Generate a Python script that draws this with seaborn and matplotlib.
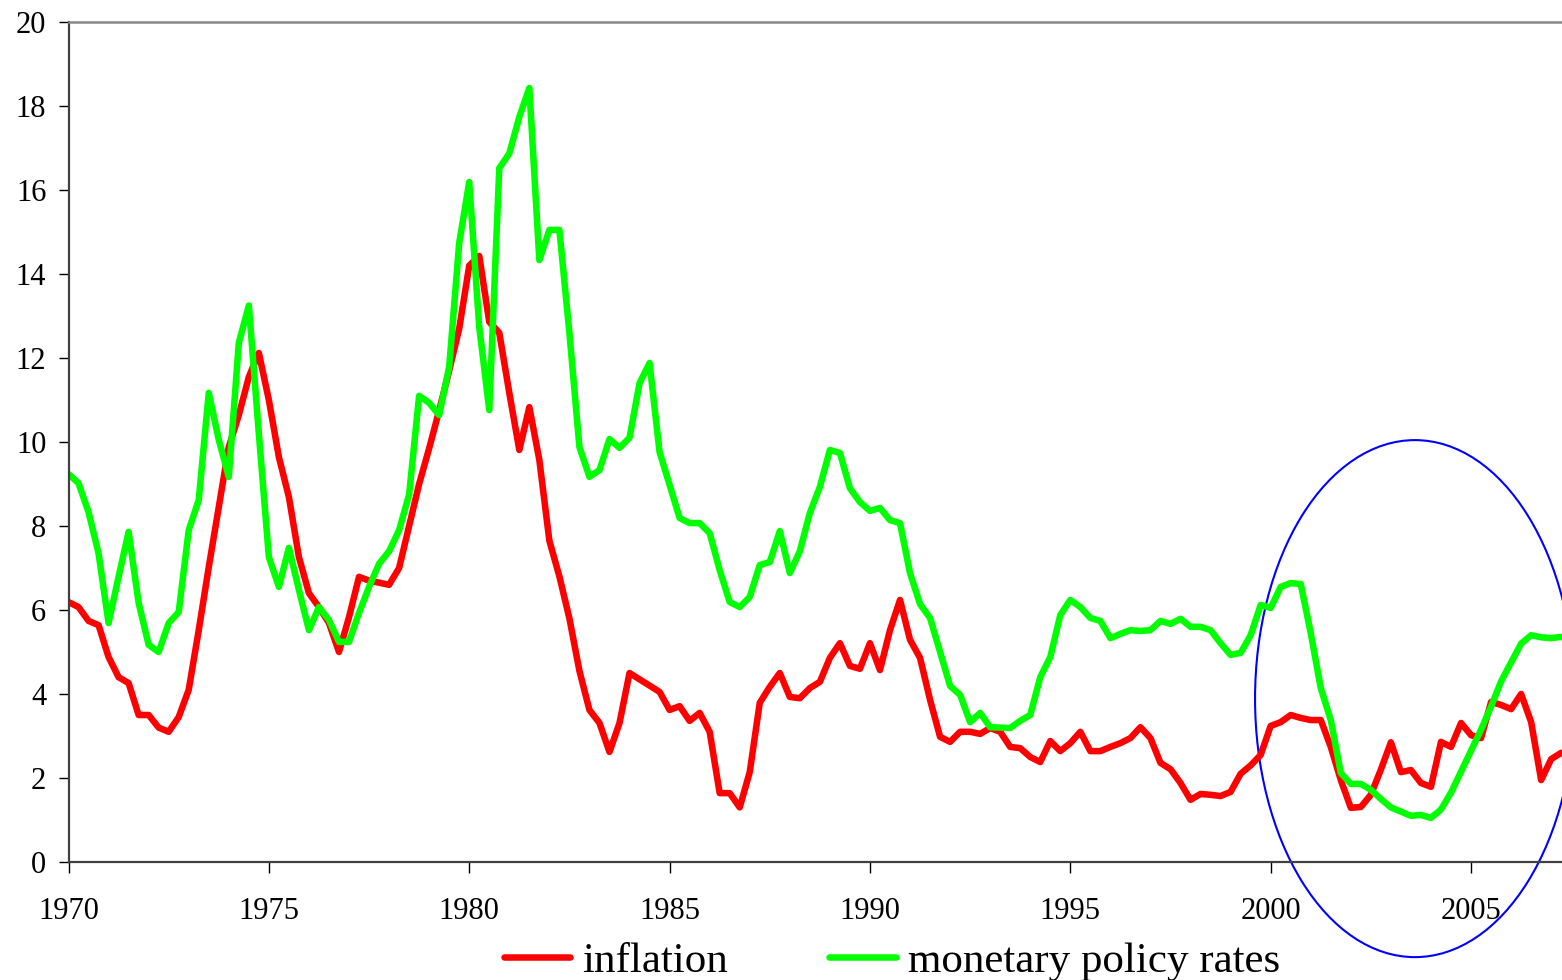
import numpy as np
import pandas as pd
import matplotlib
matplotlib.use("Agg")
import matplotlib.pyplot as plt
from matplotlib.patches import Ellipse
import seaborn as sns

# quarterly data, 1970Q1 .. 2007Q2
start_year = 1970
inflation = [
    6.19, 6.07, 5.74, 5.64, 4.88, 4.40, 4.26, 3.50, 3.50, 3.20,
    3.10, 3.45, 4.10, 5.52, 7.02, 8.45, 9.88, 10.64, 11.55, 12.12,
    11.00, 9.64, 8.69, 7.26, 6.40, 6.07, 5.69, 5.00, 5.83, 6.79,
    6.70, 6.65, 6.60, 7.00, 8.00, 9.00, 9.85, 10.75, 11.70, 12.70,
    14.20, 14.43, 12.86, 12.60, 11.17, 9.81, 10.83, 9.57, 7.65, 6.80,
    5.80, 4.55, 3.62, 3.31, 2.62, 3.31, 4.50, 4.35, 4.20, 4.05,
    3.62, 3.71, 3.36, 3.55, 3.10, 1.64, 1.64, 1.30, 2.14, 3.79,
    4.17, 4.50, 3.93, 3.90, 4.14, 4.29, 4.86, 5.21, 4.67, 4.60,
    5.21, 4.57, 5.52, 6.24, 5.29, 4.86, 3.86, 2.98, 2.86, 3.10,
    3.10, 3.05, 3.19, 3.10, 2.74, 2.71, 2.50, 2.38, 2.88, 2.64,
    2.83, 3.10, 2.64, 2.64, 2.74, 2.83, 2.95, 3.21, 2.95, 2.36,
    2.21, 1.88, 1.48, 1.62, 1.60, 1.57, 1.67, 2.10, 2.30, 2.55,
    3.24, 3.33, 3.50, 3.43, 3.38, 3.38, 2.74, 1.95, 1.29, 1.31,
    1.60, 2.20, 2.85, 2.14, 2.19, 1.88, 1.79, 2.86, 2.74, 3.31,
    3.02, 2.95, 3.81, 3.74, 3.64, 4.00, 3.33, 1.95, 2.45, 2.60,
]
policy_rate = [
    9.24, 9.02, 8.33, 7.35, 5.69, 6.79, 7.86, 6.17, 5.17, 5.00,
    5.69, 5.95, 7.90, 8.62, 11.17, 10.05, 9.17, 12.36, 13.25, 10.20,
    7.26, 6.55, 7.48, 6.48, 5.52, 6.07, 5.76, 5.24, 5.24, 5.93,
    6.55, 7.10, 7.40, 7.90, 8.75, 11.10, 10.93, 10.64, 11.79, 14.74,
    16.19, 12.74, 10.76, 16.52, 16.87, 17.74, 18.43, 14.33, 15.05, 15.05,
    12.60, 9.88, 9.17, 9.33, 10.07, 9.86, 10.10, 11.40, 11.88, 9.76,
    8.98, 8.19, 8.07, 8.07, 7.83, 6.95, 6.19, 6.07, 6.31, 7.07,
    7.14, 7.88, 6.88, 7.40, 8.31, 8.93, 9.81, 9.74, 8.90, 8.57,
    8.36, 8.43, 8.14, 8.07, 6.88, 6.14, 5.81, 5.00, 4.19, 3.98,
    3.33, 3.55, 3.21, 3.20, 3.19, 3.36, 3.50, 4.40, 4.88, 5.88,
    6.24, 6.07, 5.81, 5.74, 5.33, 5.43, 5.52, 5.50, 5.52, 5.74,
    5.67, 5.79, 5.60, 5.60, 5.52, 5.21, 4.93, 4.98, 5.40, 6.12,
    6.05, 6.55, 6.64, 6.62, 5.45, 4.14, 3.38, 2.12, 1.86, 1.86,
    1.72, 1.50, 1.30, 1.20, 1.10, 1.12, 1.05, 1.25, 1.65, 2.15,
    2.65, 3.15, 3.70, 4.30, 4.75, 5.20, 5.40, 5.35, 5.33, 5.36,
]
series_names = ["inflation", "monetary policy rates"]
year_ticks = [1970, 1975, 1980, 1985, 1990, 1995, 2000, 2005]
y_ticks = [0, 2, 4, 6, 8, 10, 12, 14, 16, 18, 20]

dates = start_year + np.arange(len(inflation)) * 0.25
df = pd.DataFrame({"date": dates, series_names[0]: inflation, series_names[1]: policy_rate})
long = df.melt(id_vars="date", var_name="series", value_name="rate")

sns.set_style("white")
plt.rcParams["font.family"] = ["Liberation Serif", "DejaVu Serif"]
plt.rcParams["text.color"] = "black"
plt.rcParams["xtick.labelcolor"] = "black"
plt.rcParams["ytick.labelcolor"] = "black"

fig = plt.figure(figsize=(15.62, 9.8), dpi=100)
ax = fig.add_axes([68.5 / 1562, 118 / 980, 1 - 68.5 / 1562, 840 / 980])

sns.lineplot(data=long, x="date", y="rate", hue="series", hue_order=series_names,
             palette={"inflation": "#ff0000", "monetary policy rates": "#00ff00"},
             linewidth=4.7, ax=ax)

ax.set_xlim(1970, 2007.27)
ax.set_ylim(0, 20)
ax.set_xticks(year_ticks)
ax.set_yticks(y_ticks)
ax.set_xlabel("")
ax.set_ylabel("")
ax.tick_params(axis="y", direction="out", length=7, width=1, color="black",
               labelsize=22, labelcolor="black", pad=9, left=True)
ax.tick_params(axis="x", direction="out", length=8, width=1, color="black",
               labelsize=22, labelcolor="black", pad=17, bottom=True)

for side in ["left", "bottom"]:
    ax.spines[side].set_color("#404040")
    ax.spines[side].set_linewidth(1.6)
ax.spines["top"].set_color("#888888")
ax.spines["top"].set_linewidth(1.8)
ax.spines["right"].set_visible(False)

# circle highlighting the recent period
ax.add_patch(Ellipse((2003.6, 3.89), width=7.98, height=12.31, fill=False,
                     edgecolor="#0000ff", linewidth=1.5, clip_on=False))

handles, labels = ax.get_legend_handles_labels()
ax.get_legend().remove()
leg = fig.legend(handles, labels, loc="center", bbox_to_anchor=(0.571, 0.019), ncol=2,
                 frameon=False, fontsize=31, handlelength=1.55, handletextpad=0.28,
                 columnspacing=2.35, borderpad=0)
for t in leg.get_texts():
    t.set_color("black")

fig.savefig("out.png", dpi=100)
